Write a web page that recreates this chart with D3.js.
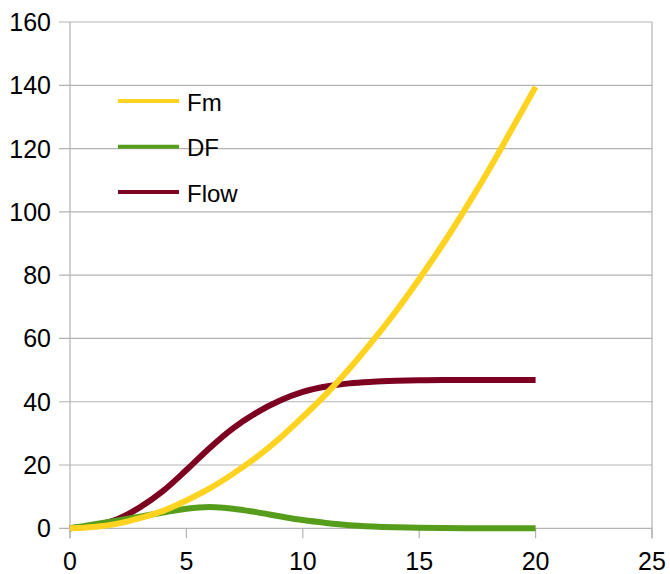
<!DOCTYPE html>
<html>
<head>
<meta charset="utf-8">
<script src="https://cdn.jsdelivr.net/npm/d3@7"></script>
<style>
  html, body { margin: 0; padding: 0; background: #fff; }
  svg { display: block; font-family: "Liberation Sans", Arial, sans-serif; }
</style>
</head>
<body>
<svg id="chart" width="670" height="574"></svg>
<script>
// ---- data ----
const xValues = [0,1,2,3,4,5,6,7,8,9,10,11,12,13,14,15,16,17,18,19,20];
const fmValues = [0, 0.4, 1.4, 3.2, 5.5, 8.8, 12.6, 17.2, 22.4, 28.4, 35.2, 42.4, 50.4, 59.2, 68.6, 78.8, 89.6, 101.2, 113.4, 126.4, 139.5];
const dfValues = [0, 1.2, 2.4, 3.7, 5.0, 6.2, 6.7, 6.2, 5.1, 3.8, 2.6, 1.7, 1.0, 0.6, 0.35, 0.2, 0.1, 0.05, 0.03, 0.02, 0.01];
const flowValues = [0, 0.9, 2.8, 6.6, 11.8, 18.4, 25.4, 31.6, 36.5, 40.3, 43.1, 44.8, 45.8, 46.3, 46.6, 46.8, 46.9, 46.9, 46.9, 46.9, 46.9];
const seriesNames = ["Fm", "DF", "Flow"];
const seriesColors = ["#ffd320", "#579d1c", "#7e0021"];
const xTicks = [0, 5, 10, 15, 20, 25];
const yTicks = [0, 20, 40, 60, 80, 100, 120, 140, 160];

const series = [
  { name: seriesNames[0], color: seriesColors[0], values: fmValues },
  { name: seriesNames[1], color: seriesColors[1], values: dfValues },
  { name: seriesNames[2], color: seriesColors[2], values: flowValues }
];

(function draw() {
const svg = d3.select("#chart");
const pLeft = 70, pRight = 652, pTop = 22, pBottom = 528.3;
const x = d3.scaleLinear().domain([0, 25]).range([pLeft, pRight]);
const y = d3.scaleLinear().domain([0, 160]).range([pBottom, pTop]);
const grid = "#b3b3b3";

// horizontal gridlines (extend left as tick marks)
svg.append("g").selectAll("line").data(yTicks).join("line")
  .attr("x1", pLeft - 11).attr("x2", pRight)
  .attr("y1", d => y(d)).attr("y2", d => y(d))
  .attr("stroke", grid).attr("stroke-width", 1.2);

// left axis line and right frame line
svg.append("line").attr("x1", pLeft).attr("x2", pLeft).attr("y1", pTop).attr("y2", pBottom + 10)
  .attr("stroke", grid).attr("stroke-width", 1.2);
svg.append("line").attr("x1", pRight).attr("x2", pRight).attr("y1", pTop).attr("y2", pBottom + 10)
  .attr("stroke", grid).attr("stroke-width", 1.2);

// x ticks
svg.append("g").selectAll("line").data(xTicks).join("line")
  .attr("x1", d => x(d)).attr("x2", d => x(d))
  .attr("y1", pBottom).attr("y2", pBottom + 10)
  .attr("stroke", grid).attr("stroke-width", 1.2);

// y tick labels
svg.append("g").selectAll("text").data(yTicks).join("text")
  .attr("x", 51).attr("y", d => y(d) + 9)
  .attr("text-anchor", "end")
  .attr("font-size", 25).attr("fill", "#000")
  .text(d => d);

// x tick labels
svg.append("g").selectAll("text").data(xTicks).join("text")
  .attr("x", d => x(d)).attr("y", 570)
  .attr("text-anchor", "middle")
  .attr("font-size", 25).attr("fill", "#000")
  .text(d => d);

// lines
const line = d3.line()
  .x((d, i) => x(xValues[i]))
  .y(d => y(d))
  .curve(d3.curveMonotoneX);

const drawOrder = [2, 1, 0];
drawOrder.forEach(k => {
  const s = series[k];
  svg.append("path")
    .attr("d", line(s.values))
    .attr("fill", "none")
    .attr("stroke", s.color)
    .attr("stroke-width", 6)
    .attr("stroke-linejoin", "round")
    .attr("stroke-linecap", "butt");
});

// legend
const legendY = [101, 146.7, 192];
const lg = svg.append("g");
series.forEach((s, i) => {
  lg.append("line")
    .attr("x1", 118).attr("x2", 179)
    .attr("y1", legendY[i]).attr("y2", legendY[i])
    .attr("stroke", s.color).attr("stroke-width", 4);
  lg.append("text")
    .attr("x", 187).attr("y", legendY[i] + 9.5)
    .attr("font-size", 24).attr("fill", "#000")
    .text(s.name);
});
})();
</script>
</body>
</html>
